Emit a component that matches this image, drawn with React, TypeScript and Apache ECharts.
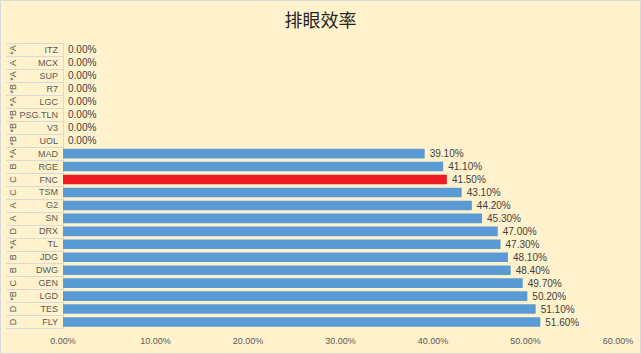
import React, { useEffect, useRef } from "react";
import * as echarts from "echarts";

const teams = ["ITZ", "MCX", "SUP", "R7", "LGC", "PSG.TLN", "V3", "UOL", "MAD", "RGE", "FNC", "TSM", "G2", "SN", "DRX", "TL", "JDG", "DWG", "GEN", "LGD", "TES", "FLY"];
const tiers = ["*A", "A", "*A", "*B", "*A", "*B", "*B", "*B", "*A", "B", "C", "C", "A", "A", "D", "*A", "B", "B", "C", "*B", "D", "D"];
const values = [0, 0, 0, 0, 0, 0, 0, 0, 39.1, 41.1, 41.5, 43.1, 44.2, 45.3, 47.0, 47.3, 48.1, 48.4, 49.7, 50.2, 51.1, 51.6];
const highlight = "FNC";
const xTicks = { min: 0, max: 60, interval: 10 };
const title = "排眼效率";

export default function App() {
  const ref = useRef<HTMLDivElement>(null);
  useEffect(() => {
    if (!ref.current) return;
    const chart = echarts.init(ref.current, null, { renderer: "svg" });
    const font = "'Liberation Sans', 'Noto Sans', sans-serif";
    chart.setOption({
      animation: false,
      backgroundColor: "#FFF2CC",
      title: {
        text: title,
        left: "center",
        top: 5,
        textStyle: { fontFamily: "'Noto Sans CJK SC'", fontSize: 18, fontWeight: "normal", color: "#262626" },
      },
      grid: { left: 63, right: 23, top: 43.5, bottom: 25.5, containLabel: false },
      xAxis: {
        type: "value",
        min: xTicks.min,
        max: xTicks.max,
        interval: xTicks.interval,
        axisLine: { show: false },
        axisTick: { show: false },
        splitLine: { show: false },
        axisLabel: {
          formatter: (v: number) => v.toFixed(2) + "%",
          color: "#595959",
          fontSize: 9,
          fontFamily: font,
          margin: 8,
        },
      },
      yAxis: [
        {
          type: "category",
          inverse: true,
          data: teams,
          axisLine: { show: true, lineStyle: { color: "#D9D9D9" } },
          axisTick: { show: true, length: 57, lineStyle: { color: "#D9D9D9" } },
          axisLabel: { color: "#595959", fontSize: 9, fontFamily: font, margin: 5, interval: 0 },
        },
        {
          type: "category",
          inverse: true,
          position: "left",
          offset: 44,
          data: tiers,
          axisLine: { show: false },
          axisTick: { show: false },
          axisLabel: { color: "#595959", fontSize: 9, fontFamily: font, rotate: 90, margin: 2, interval: 0 },
        },
      ],
      series: [
        {
          type: "bar",
          yAxisIndex: 0,
          data: values.map((v, i) => ({
            value: v,
            itemStyle: { color: teams[i] === highlight ? "#ED1C24" : "#5B9BD5" },
          })),
          barCategoryGap: "26%",
          label: {
            show: true,
            position: "right",
            distance: 5,
            formatter: (p: any) => Number(p.value).toFixed(2) + "%",
            color: "#404040",
            fontSize: 10,
            fontFamily: font,
          },
        },
      ],
      graphic: [
        {
          type: "rect",
          shape: { x: 0.5, y: 0.5, width: 640, height: 353 },
          style: { fill: "none", stroke: "#D9D9D9", lineWidth: 1 },
          silent: true,
        },
      ],
    });
    return () => chart.dispose();
  }, []);
  return <div ref={ref} style={{ position: "fixed", left: 0, top: 0, width: 641, height: 354 }} />;
}
